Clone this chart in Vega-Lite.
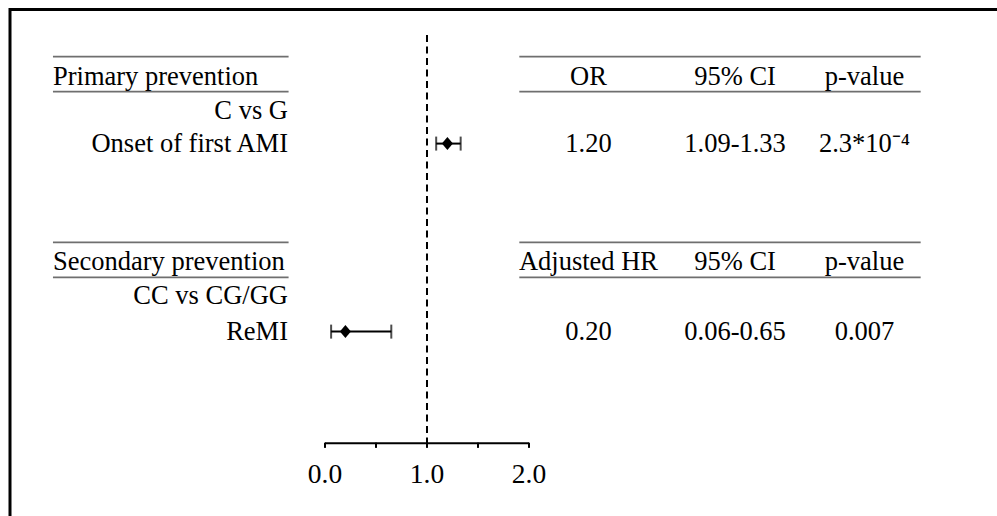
{
  "$schema": "https://vega.github.io/schema/vega-lite/v6.json",
  "width": 997,
  "height": 516,
  "autosize": "none",
  "padding": 0,
  "background": "white",
  "config": {
    "view": {"stroke": null},
    "text": {"font": "Liberation Serif", "fontSize": 26.5, "color": "#000000"}
  },
  "datasets": {
    "sections": [
      {"section": "Primary prevention", "row": 0},
      {"section": "Secondary prevention", "row": 5.36}
    ],
    "items": [
      {"label": "C vs G", "row": 1},
      {"label": "Onset of first AMI", "row": 1.93},
      {"label": "CC vs CG/GG", "row": 6.35},
      {"label": "ReMI", "row": 7.38}
    ],
    "table": [
      {"row": 0, "c1": "OR", "c2": "95% CI", "c3": "p-value"},
      {"row": 1.93, "c1": "1.20", "c2": "1.09-1.33", "c3": "2.3*10⁻⁴"},
      {"row": 5.36, "c1": "Adjusted HR", "c2": "95% CI", "c3": "p-value"},
      {"row": 7.38, "c1": "0.20", "c2": "0.06-0.65", "c3": "0.007"}
    ],
    "estimates": [
      {"outcome": "Onset of first AMI", "row": 1.93, "est": 1.2, "lo": 1.09, "hi": 1.33},
      {"outcome": "ReMI", "row": 7.38, "est": 0.2, "lo": 0.06, "hi": 0.65}
    ],
    "hlines": [
      {"row": -0.588},
      {"row": 0.426},
      {"row": 4.791},
      {"row": 5.806}
    ],
    "ticks": [{"v": 0}, {"v": 0.5}, {"v": 1}, {"v": 1.5}, {"v": 2}],
    "ticklabels": [{"v": 0}, {"v": 1}, {"v": 2}]
  },
  "layer": [
    {
      "data": {"values": [{}]},
      "mark": {"type": "rect", "fill": null, "stroke": "#000000", "strokeWidth": 3, "clip": true},
      "encoding": {
        "x": {"datum": -3.0882, "type": "quantitative", "scale": {"domain": [-3.18627, 6.58824], "nice": false, "zero": false}, "axis": null},
        "x2": {"datum": 8},
        "y": {"datum": -1.9565, "type": "quantitative", "scale": {"domain": [-2.23188, 12.72464], "reverse": true, "nice": false, "zero": false}, "axis": null},
        "y2": {"datum": 14}
      }
    },
    {
      "data": {"name": "hlines"},
      "mark": {"type": "rule", "stroke": "#6f6f6f", "strokeWidth": 1.8},
      "encoding": {
        "x": {"datum": -2.667, "type": "quantitative", "scale": {"domain": [-3.18627, 6.58824], "nice": false, "zero": false}, "axis": null},
        "x2": {"datum": -0.357},
        "y": {"field": "row", "type": "quantitative", "scale": {"domain": [-2.23188, 12.72464], "reverse": true, "nice": false, "zero": false}, "axis": null}
      }
    },
    {
      "data": {"name": "hlines"},
      "mark": {"type": "rule", "stroke": "#6f6f6f", "strokeWidth": 1.8},
      "encoding": {
        "x": {"datum": 1.905, "type": "quantitative", "scale": {"domain": [-3.18627, 6.58824], "nice": false, "zero": false}, "axis": null},
        "x2": {"datum": 5.84},
        "y": {"field": "row", "type": "quantitative", "scale": {"domain": [-2.23188, 12.72464], "reverse": true, "nice": false, "zero": false}, "axis": null}
      }
    },
    {
      "data": {"values": [{}]},
      "mark": {"type": "rule", "stroke": "#000000", "strokeWidth": 2, "strokeDash": [7, 4.5]},
      "encoding": {
        "x": {"datum": 1, "type": "quantitative", "scale": {"domain": [-3.18627, 6.58824], "nice": false, "zero": false}, "axis": null},
        "y": {"datum": -1.217, "type": "quantitative", "scale": {"domain": [-2.23188, 12.72464], "reverse": true, "nice": false, "zero": false}, "axis": null},
        "y2": {"datum": 10.617}
      }
    },
    {
      "data": {"values": [{}]},
      "mark": {"type": "rule", "stroke": "#000000", "strokeWidth": 2},
      "encoding": {
        "x": {"datum": 0, "type": "quantitative", "scale": {"domain": [-3.18627, 6.58824], "nice": false, "zero": false}, "axis": null},
        "x2": {"datum": 2},
        "y": {"datum": 10.617, "type": "quantitative", "scale": {"domain": [-2.23188, 12.72464], "reverse": true, "nice": false, "zero": false}, "axis": null}
      }
    },
    {
      "data": {"name": "ticks"},
      "mark": {"type": "rule", "stroke": "#000000", "strokeWidth": 2},
      "encoding": {
        "x": {"field": "v", "type": "quantitative", "scale": {"domain": [-3.18627, 6.58824], "nice": false, "zero": false}, "axis": null},
        "y": {"datum": 10.6, "type": "quantitative", "scale": {"domain": [-2.23188, 12.72464], "reverse": true, "nice": false, "zero": false}, "axis": null},
        "y2": {"datum": 10.75}
      }
    },
    {
      "data": {"name": "ticklabels"},
      "mark": {"type": "text", "align": "center", "baseline": "middle", "fontSize": 27.5},
      "encoding": {
        "x": {"field": "v", "type": "quantitative", "scale": {"domain": [-3.18627, 6.58824], "nice": false, "zero": false}, "axis": null},
        "y": {"datum": 11.55, "type": "quantitative", "scale": {"domain": [-2.23188, 12.72464], "reverse": true, "nice": false, "zero": false}, "axis": null},
        "text": {"field": "v", "type": "quantitative", "format": ".1f"}
      }
    },
    {
      "data": {"name": "estimates"},
      "mark": {"type": "rule", "stroke": "#000000", "strokeWidth": 2},
      "encoding": {
        "x": {"field": "lo", "type": "quantitative", "scale": {"domain": [-3.18627, 6.58824], "nice": false, "zero": false}, "axis": null},
        "x2": {"field": "hi"},
        "y": {"field": "row", "type": "quantitative", "scale": {"domain": [-2.23188, 12.72464], "reverse": true, "nice": false, "zero": false}, "axis": null}
      }
    },
    {
      "data": {"name": "estimates"},
      "mark": {"type": "tick", "orient": "vertical", "color": "#000000", "size": 14, "thickness": 2},
      "encoding": {
        "x": {"field": "lo", "type": "quantitative", "scale": {"domain": [-3.18627, 6.58824], "nice": false, "zero": false}, "axis": null},
        "y": {"field": "row", "type": "quantitative", "scale": {"domain": [-2.23188, 12.72464], "reverse": true, "nice": false, "zero": false}, "axis": null}
      }
    },
    {
      "data": {"name": "estimates"},
      "mark": {"type": "tick", "orient": "vertical", "color": "#000000", "size": 14, "thickness": 2},
      "encoding": {
        "x": {"field": "hi", "type": "quantitative", "scale": {"domain": [-3.18627, 6.58824], "nice": false, "zero": false}, "axis": null},
        "y": {"field": "row", "type": "quantitative", "scale": {"domain": [-2.23188, 12.72464], "reverse": true, "nice": false, "zero": false}, "axis": null}
      }
    },
    {
      "data": {"name": "estimates"},
      "mark": {"type": "point", "shape": "M-0.85,0L0,-1L0.85,0L0,1Z", "filled": true, "color": "#000000", "opacity": 1, "size": 169},
      "encoding": {
        "x": {"field": "est", "type": "quantitative", "scale": {"domain": [-3.18627, 6.58824], "nice": false, "zero": false}, "axis": null},
        "y": {"field": "row", "type": "quantitative", "scale": {"domain": [-2.23188, 12.72464], "reverse": true, "nice": false, "zero": false}, "axis": null}
      }
    },
    {
      "data": {"name": "sections"},
      "mark": {"type": "text", "align": "left", "baseline": "middle"},
      "encoding": {
        "x": {"datum": -2.667, "type": "quantitative", "scale": {"domain": [-3.18627, 6.58824], "nice": false, "zero": false}, "axis": null},
        "y": {"field": "row", "type": "quantitative", "scale": {"domain": [-2.23188, 12.72464], "reverse": true, "nice": false, "zero": false}, "axis": null},
        "text": {"field": "section"}
      }
    },
    {
      "data": {"name": "items"},
      "mark": {"type": "text", "align": "right", "baseline": "middle"},
      "encoding": {
        "x": {"datum": -0.363, "type": "quantitative", "scale": {"domain": [-3.18627, 6.58824], "nice": false, "zero": false}, "axis": null},
        "y": {"field": "row", "type": "quantitative", "scale": {"domain": [-2.23188, 12.72464], "reverse": true, "nice": false, "zero": false}, "axis": null},
        "text": {"field": "label"}
      }
    },
    {
      "data": {"name": "table"},
      "mark": {"type": "text", "align": "center", "baseline": "middle"},
      "encoding": {
        "x": {"datum": 2.583, "type": "quantitative", "scale": {"domain": [-3.18627, 6.58824], "nice": false, "zero": false}, "axis": null},
        "y": {"field": "row", "type": "quantitative", "scale": {"domain": [-2.23188, 12.72464], "reverse": true, "nice": false, "zero": false}, "axis": null},
        "text": {"field": "c1"}
      }
    },
    {
      "data": {"name": "table"},
      "mark": {"type": "text", "align": "center", "baseline": "middle"},
      "encoding": {
        "x": {"datum": 4.02, "type": "quantitative", "scale": {"domain": [-3.18627, 6.58824], "nice": false, "zero": false}, "axis": null},
        "y": {"field": "row", "type": "quantitative", "scale": {"domain": [-2.23188, 12.72464], "reverse": true, "nice": false, "zero": false}, "axis": null},
        "text": {"field": "c2"}
      }
    },
    {
      "data": {"name": "table"},
      "mark": {"type": "text", "align": "center", "baseline": "middle"},
      "encoding": {
        "x": {"datum": 5.289, "type": "quantitative", "scale": {"domain": [-3.18627, 6.58824], "nice": false, "zero": false}, "axis": null},
        "y": {"field": "row", "type": "quantitative", "scale": {"domain": [-2.23188, 12.72464], "reverse": true, "nice": false, "zero": false}, "axis": null},
        "text": {"field": "c3"}
      }
    }
  ]
}
